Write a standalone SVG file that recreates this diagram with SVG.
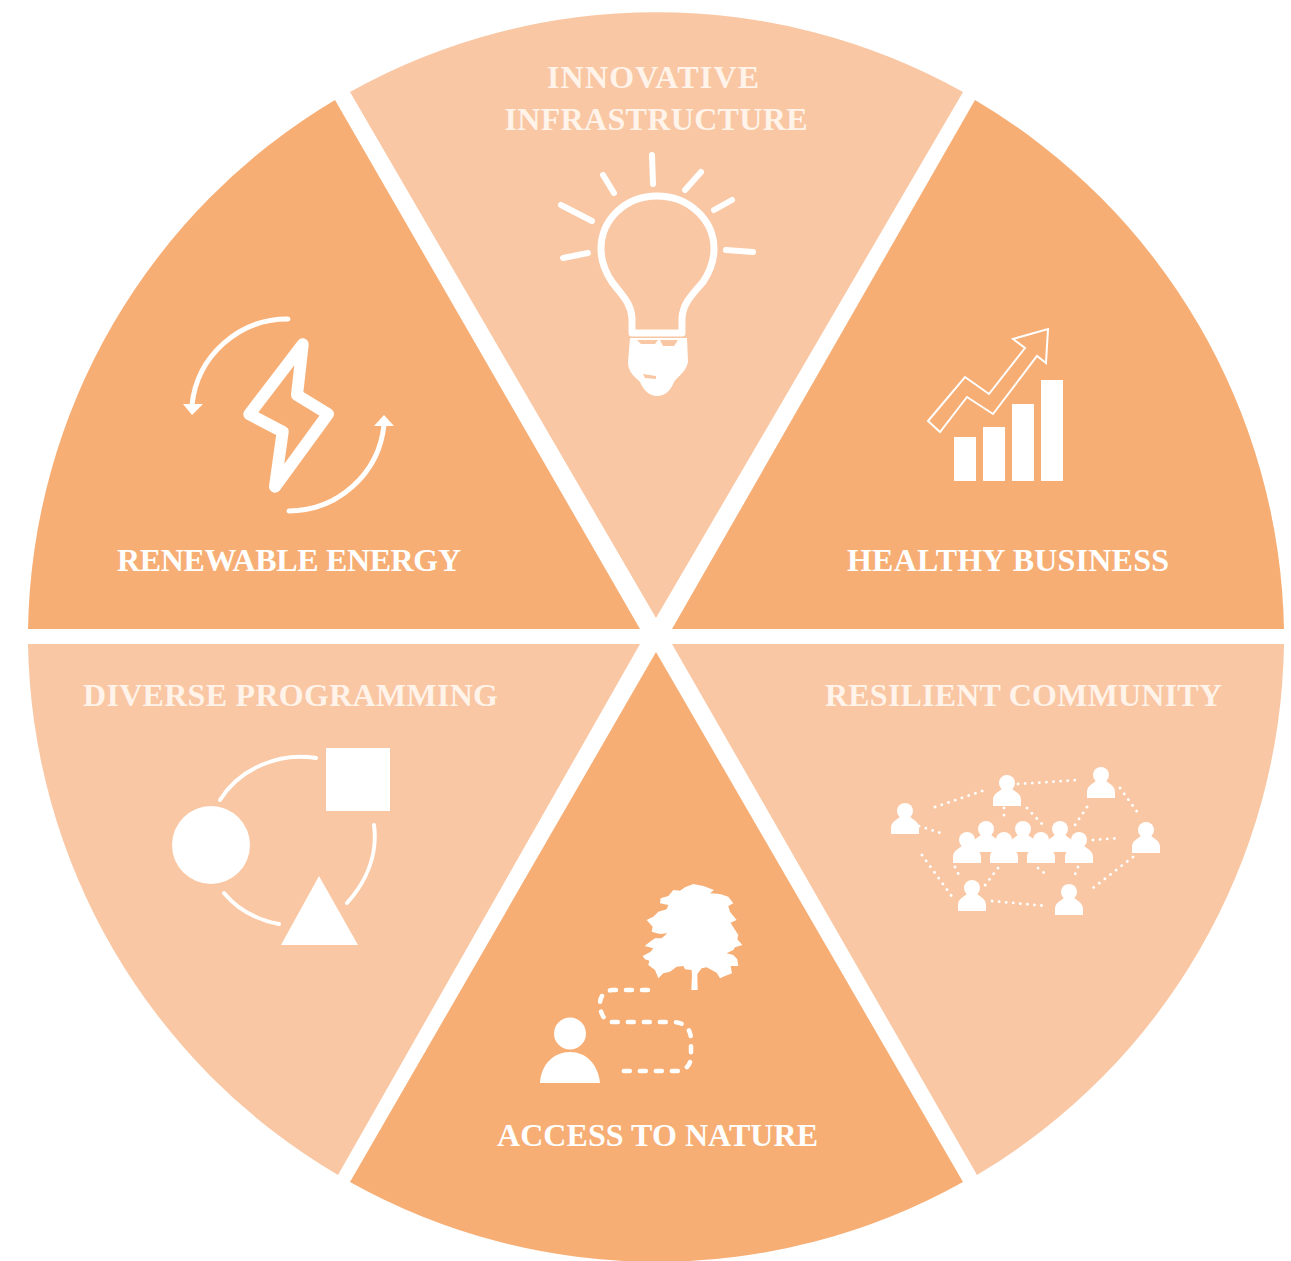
<svg xmlns="http://www.w3.org/2000/svg" width="1291" height="1261" viewBox="0 0 1291 1261">
<style>
.dark{fill:#f6ae75}.light{fill:#f9c7a3}
.t{font-family:"Liberation Serif",serif;font-weight:700;font-size:32px;fill:#fff}
.tl{fill:#fff3ea}
.w{fill:#fff}
.s{fill:none;stroke:#fff;stroke-linecap:round;stroke-linejoin:round}
.d{fill:none;stroke:#fff;stroke-width:2.800;stroke-linecap:round;stroke-dasharray:.1 7}
</style>
<defs>
<g id="p"><circle cx="0" cy="8" r="8" class="w"/><path class="w" d="M-14 31V25C-14 19-9 17-5 14H5C9 17 14 19 14 25V31Z"/></g>
</defs>
<rect width="1291" height="1261" fill="#fff"/>
<g id="innovative-infrastructure">
<path class="light" d="M350 92A628 628 0 0 1 963 92L656 618Z"/>
<text class="t tl" x="653" y="88" text-anchor="middle" textLength="212">INNOVATIVE</text>
<text class="t tl" x="656" y="130" text-anchor="middle" textLength="303">INFRASTRUCTURE</text>
<path class="s" stroke-width="7" d="M632 331V318C631 303 622 295 612 282C604 270 601 259 601 249C601 219 626 196 657 196C688 196 714 219 714 249C714 259 711 270 703 282C692 295 683 303 682 318V331M632 333H682"/>
<path class="s" stroke-width="6" d="M652 155L653 184M603 175L614 193M561 205L592 221M563 258L588 253M685 190L701 172M714 210L732 200M726 250L753 252"/>
<path class="w" d="M630 338H687L688 362C686 372 678 376 674 382C670 392 664 396 657 396C650 396 644 391 640 382C634 376 628 372 628 362Z"/>
<path class="light" d="M637 340H658L655 344H641ZM660 340H678L674 346H663ZM643 374L656 376V379L645 378Z"/>
</g>
<g id="healthy-business">
<path class="dark" d="M975 100A628 628 0 0 1 1284 629H672Z"/>
<text class="t" x="1008" y="571" text-anchor="middle" textLength="322">HEALTHY BUSINESS</text>
<path class="w" d="M954 437H976V481H954ZM983 427H1005V481H983ZM1012 404H1034V481H1012ZM1041 380H1063V481H1041Z"/>
<path fill="none" stroke="#fff" stroke-width="2" d="M928 421L965 377L989 394L1025 348L1013 339L1048 329L1046 363L1037 356L993 414L967 397L940 432Z"/>
</g>
<g id="resilient-community">
<path class="light" d="M672 644H1284A628 628 0 0 1 977 1175Z"/>
<text class="t tl" x="1023.500" y="706" text-anchor="middle" textLength="397">RESILIENT COMMUNITY</text>
<path class="d" d="M935 807L988 789M1018 784L1077 780M919 826L944 834M922 855L953 898M1120 788L1138 813M1087 807L1073 828M1004 808L1004 818M1027 808L1043 825M1093 840L1120 838M1133 857L1093 888M1078 867L1074 877M1038 868L1048 876M955 867L959 875M998 868L983 888M992 901L1047 906"/>
<use href="#p" x="905" y="803"/><use href="#p" x="1007" y="775"/><use href="#p" x="1101" y="767"/><use href="#p" x="1146" y="822"/><use href="#p" x="972" y="880"/><use href="#p" x="1069" y="884"/>
<use href="#p" x="986" y="821"/><use href="#p" x="1023" y="821"/><use href="#p" x="1060" y="821"/>
<use href="#p" x="967" y="832"/><use href="#p" x="1004" y="832"/><use href="#p" x="1041" y="832"/><use href="#p" x="1079" y="832"/>
</g>
<g id="access-to-nature">
<path class="dark" d="M656 652L963 1182A628 628 0 0 1 350 1182Z"/>
<text class="t" x="657.500" y="1146" text-anchor="middle" textLength="321">ACCESS TO NATURE</text>
<path class="w" transform="translate(520 870) scale(.3333)" d="M368 258L392 245L400 235L374 228L390 215L405 205L425 205L442 190L420 192L395 185L398 170L380 150L400 140L415 125L440 118L445 105L420 100L422 85L445 78L460 60L480 62L495 52L520 42L550 48L582 60L570 70L600 72L625 80L640 100L625 108L630 125L650 150L632 158L640 172L655 195L652 208L667 225L645 232L640 240L620 250L640 255L652 268L655 288L632 288L636 310L615 318L600 325L590 308L575 300L560 292L545 295L532 312L533 360H514L516 315L515 300L495 298L490 288L470 290L450 305L430 310L415 325L410 312L405 300L385 285L388 272L375 268Z"/>
<path class="s" stroke-width="4.500" stroke-dasharray="6 10" d="M648 990H612C604 991 600 997 600 1003C600 1013 604 1022 612 1022H674C686 1023 691 1030 691 1040V1056C691 1065 686 1070 678 1071H618"/>
<circle class="w" cx="570" cy="1033.500" r="16"/>
<path class="w" d="M540 1083C541 1064 554 1052 570 1052C586 1052 598 1064 600 1083Z"/>
</g>
<g id="diverse-programming">
<path class="light" d="M28 644H640L338 1175A628 628 0 0 1 28 644Z"/>
<text class="t tl" x="290.500" y="706" text-anchor="middle" textLength="415">DIVERSE PROGRAMMING</text>
<circle class="w" cx="211" cy="845" r="39"/>
<rect class="w" x="326" y="748" width="64" height="63"/>
<path class="w" d="M281 945H358L319 876Z"/>
<path class="s" stroke-width="4" d="M220 800C240 768 280 752 316 758M374 825C378 855 366 882 347 903M224 893C238 910 258 920 279 924"/>
</g>
<g id="renewable-energy">
<path class="dark" d="M335 100L640 629H28A628 628 0 0 1 335 100Z"/>
<text class="t" x="289" y="571" text-anchor="middle" textLength="344">RENEWABLE ENERGY</text>
<path class="s" stroke-width="12" d="M302.700 344.300L249.300 414.300L282.700 431.700L275 486.700L328 414L297 395Z"/>
<path class="s" stroke-width="5" stroke-linecap="butt" d="M288 319A96 96 0 0 0 192 405M289 511A96 96 0 0 0 384 425"/>
<path class="w" d="M183 404H203L192 415ZM374 426H394L384 415Z"/>
</g>
</svg>
